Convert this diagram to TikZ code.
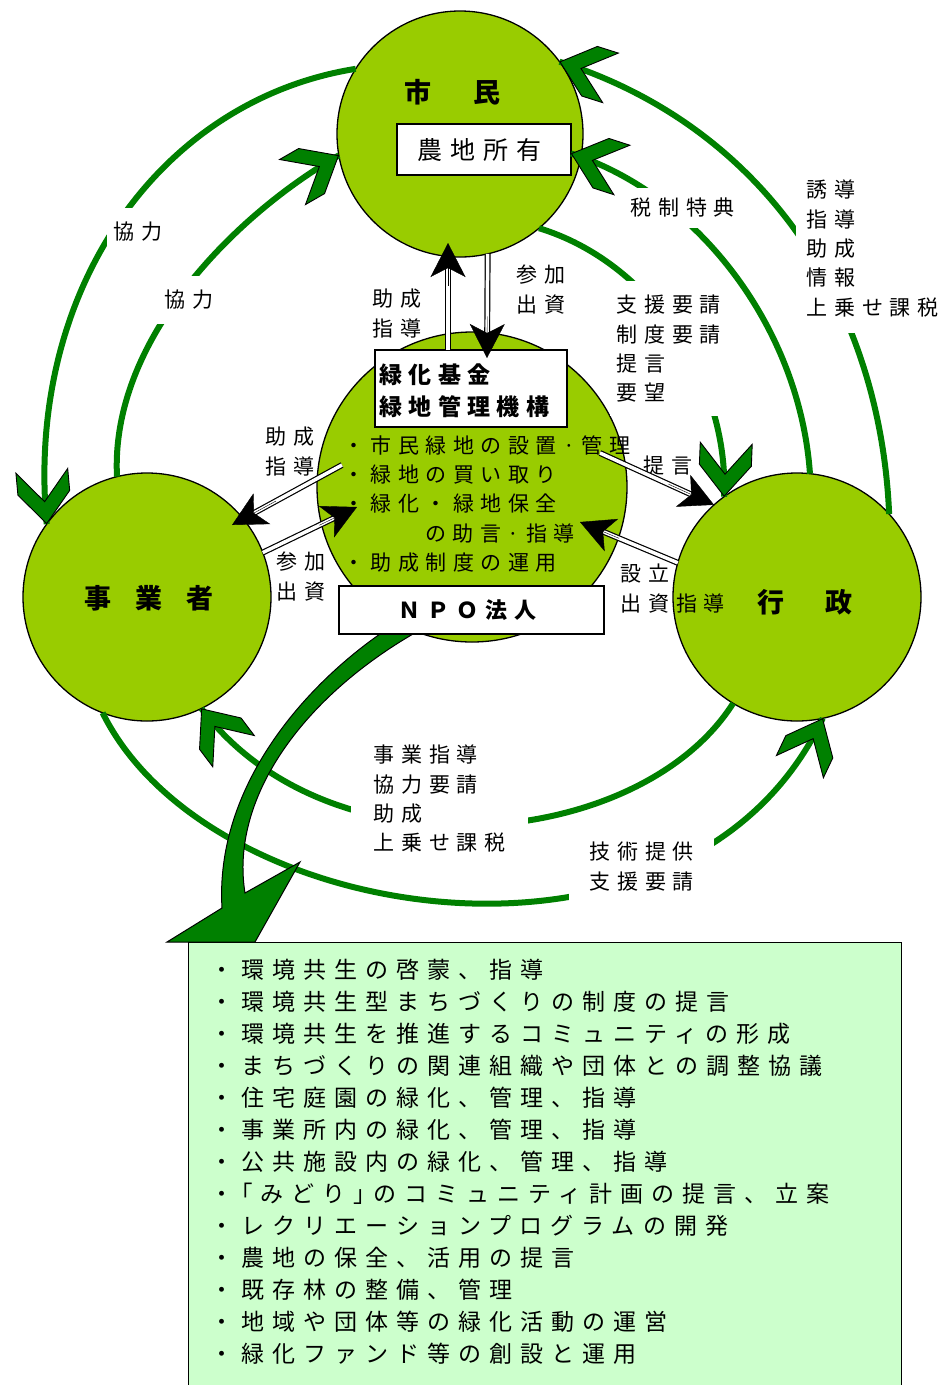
\documentclass[tikz,border=0pt]{standalone}
\usepackage{fontspec}
\setmainfont{Noto Sans CJK JP}
\usetikzlibrary{arrows.meta,decorations.markings,calc}
\definecolor{cfill}{RGB}{153,204,0}
\definecolor{agreen}{RGB}{0,128,0}
\definecolor{lgreen}{RGB}{204,255,204}
\newcommand\dblarr[2]{%
  \draw[dblshaft, shorten >=14pt] #1 -- #2;
  \draw[line width=0.4pt, -{Stealth[length=34pt,width=35pt,inset=9pt]}] ($#1!0.6!#2$) -- #2;}
\tikzset{
 circ/.style={circle,draw=black,line width=1.3pt,fill=cfill,inner sep=0pt,outer sep=0pt},
 wbox/.style={rectangle,draw=black,line width=1.3pt,fill=white,inner sep=0pt,outer sep=0pt},
 garc/.style={draw=agreen,line width=6pt,postaction={decorate,decoration={markings,mark=at position -0.5pt with {\draw[black,line width=0.9pt,fill=agreen,line join=miter] (0,0)--(-31,26)--(-53,26)--(-22,0)--(-53,-26)--(-31,-26)--cycle;}}}},
 dblshaft/.style={draw=black,line width=1.2pt,double=white,double distance=3.5pt},
 lab/.style={font=\fontsize{21}{29.3}\selectfont\addfontfeature{LetterSpace=33},align=left,inner sep=0pt,anchor=north west},
 wlab/.style={lab,fill=white},
 bul/.style={font=\fontsize{21}{21}\selectfont\addfontfeature{LetterSpace=31},inner sep=0pt,anchor=base west},
 lst/.style={font=\fontsize{23}{23}\selectfont\addfontfeature{LetterSpace=35},inner sep=0pt,anchor=base west},
 ttl/.style={font=\fontsize{27}{27}\selectfont\bfseries,inner sep=0pt,anchor=base west},
}
\begin{document}
\begin{tikzpicture}[x=1pt,y=-1pt]
\useasboundingbox (0,0) rectangle (943,1385);
% list box
\node[rectangle,draw=black,line width=1.3pt,fill=lgreen,minimum width=713pt,minimum height=470pt,anchor=north west,inner sep=0pt] (listbox) at (188,942) {};
% circles
\node[circ,minimum size=246pt] (shimin) at (460,134) {};
\node[circ,minimum size=248pt] (jigyo) at (147,597) {};
\node[circ,minimum size=248pt] (gyosei) at (797,597) {};
\node[wbox,minimum width=174pt,minimum height=51pt] (nochi) at (484,149.5) {};
% green arcs
\draw[garc] (shimin.148) .. controls (160,100) and (25,290) .. (jigyo.144);
\draw[garc] (jigyo.104) .. controls (110,340) and (235,215) .. (shimin.190);
\draw[garc] (gyosei.42) .. controls (880,300) and (760,125) .. (shimin.36);
\draw[garc] (gyosei.84) .. controls (800,330) and (700,195) .. ([yshift=-4pt]nochi.east);
\draw[garc] (shimin.-50) .. controls (650,262) and (729,380) .. (gyosei.126);
\draw[garc] (jigyo.249) .. controls (210,930) and (690,1000) .. (gyosei.-78);
\draw[garc] (gyosei.239) .. controls (640,850) and (330,880) .. (jigyo.-64);
% big arrow
\fill[agreen,draw=black,line width=1pt,line join=miter] (380,634) .. controls (300,690) and (215,790) .. (222,908) -- (167,942) -- (255,942) -- (300,862) -- (245,893) .. controls (230,800) and (300,700) .. (413,634) -- cycle;
% NPO
\node[circ,minimum size=310pt] (npo) at (472,487) {};
\node[wbox,minimum width=192pt,minimum height=77pt,anchor=north west] (kikin) at (375,350) {};
\node[wbox,minimum width=265pt,minimum height=48pt] (npobox) at (471.5,610) {};
% labels
\node[wlab,inner xsep=6pt,inner ysep=14pt] (l1) at (107,208) {協力};
\node[wlab,inner xsep=8pt,inner ysep=14pt] (l2) at (156,276) {協力};
\node[lab] (l3) at (372,289) {助成\\指導};
\node[lab] (l4) at (516,265) {参加\\出資};
\node[wlab,inner xsep=4pt,inner ysep=10pt] (l5) at (626,188) {税制特典};
\node[wlab,inner xsep=10pt,inner ysep=16pt] (l6) at (796,164) {誘導\\指導\\助成\\情報\\上乗せ課税};
\node[wlab,inner xsep=6pt,inner ysep=14pt] (l7) at (610,281) {支援要請\\制度要請\\提言\\要望};
\node[lab] (l8) at (643,456) {提言};
\node[lab] (l9) at (265,427) {助成\\指導};
\node[lab] (l10) at (276,552) {参加\\出資};
\node[lab] (l11) at (620,564) {設立\\出資指導};
\node[wlab,inner xsep=22pt,inner ysep=10pt] (l12) at (351,735) {事業指導\\協力要請\\助成\\上乗せ課税};
\node[wlab,inner xsep=20pt,inner ysep=10pt] (l13) at (569,832) {技術提供\\支援要請};
% double arrows
\coordinate (aS) at ($(kikin.north)+(-23,0)$);
\coordinate (aE) at ($(shimin.center)+(-12,109)$);
\coordinate (bE) at ($(kikin.north)+(16,8)$);
\coordinate (cS) at ($(npo.center)+(-130,-22)$);
\coordinate (cE) at ($(jigyo.center)+(85,-72)$);
\coordinate (dE) at ($(npo.center)+(-115,20)$);
\coordinate (eS) at ($(npo.center)+(128,-34)$);
\coordinate (fE) at ($(npo.center)+(108,35)$);
\dblarr{(aS)}{(aE)}
\dblarr{(shimin.-77)}{(bE)}
\dblarr{(cS)}{(cE)}
\dblarr{(jigyo.21)}{(dE)}
\dblarr{(eS)}{(gyosei.132)}
\dblarr{(gyosei.164)}{(fE)}
% titles
\node[ttl] (tShimin) at (404,102) {市\hspace{42pt}民};
\node[ttl] (tJigyo) at (84,608) {事\hspace{24pt}業\hspace{24pt}者};
\node[ttl] (tGyosei) at (757,612) {行\hspace{41pt}政};
\node[inner sep=0pt,anchor=base west,font=\fontsize{25}{25}\selectfont\addfontfeature{LetterSpace=32}] (tNochi) at (417,159.5) {農地所有};
\node[inner sep=0pt,anchor=base west,font=\fontsize{23}{23}\selectfont\bfseries\addfontfeature{LetterSpace=28}] (tK1) at (379,383) {緑化基金};
\node[inner sep=0pt,anchor=base west,font=\fontsize{23}{23}\selectfont\bfseries\addfontfeature{LetterSpace=28}] (tK2) at (379,415) {緑地管理機構};
\node[inner sep=0pt,anchor=base west,font=\fontsize{22}{22}\selectfont\bfseries\addfontfeature{LetterSpace=32}] (tNpo) at (398.5,618) {ＮＰＯ法人};
% NPO bullets
\node[bul] (b1) at (343,453) {・市民緑地の設置·管理};
\node[bul] (b2) at (343,482) {・緑地の買い取り};
\node[bul] (b3) at (343,511) {・緑化・緑地保全};
\node[bul] (b4) at (425,541) {の助言·指導};
\node[bul] (b5) at (343,570) {・助成制度の運用};
% list
\node[lst] (m1) at (210,978.7) {・環境共生の啓蒙、指導};
\node[lst] (m2) at (210,1010.7) {・環境共生型まちづくりの制度の提言};
\node[lst] (m3) at (210,1042.7) {・環境共生を推進するコミュニティの形成};
\node[lst] (m4) at (210,1074.7) {・まちづくりの関連組織や団体との調整協議};
\node[lst] (m5) at (210,1106.7) {・住宅庭園の緑化、管理、指導};
\node[lst] (m6) at (210,1138.7) {・事業所内の緑化、管理、指導};
\node[lst] (m7) at (210,1170.7) {・公共施設内の緑化、管理、指導};
\node[lst] (m8) at (210,1202.7) {・｢みどり｣のコミュニティ計画の提言、立案};
\node[lst] (m9) at (210,1234.7) {・レクリエーションプログラムの開発};
\node[lst] (m10) at (210,1266.7) {・農地の保全、活用の提言};
\node[lst] (m11) at (210,1298.7) {・既存林の整備、管理};
\node[lst] (m12) at (210,1330.7) {・地域や団体等の緑化活動の運営};
\node[lst] (m13) at (210,1362.7) {・緑化ファンド等の創設と運用};
\end{tikzpicture}
\end{document}
